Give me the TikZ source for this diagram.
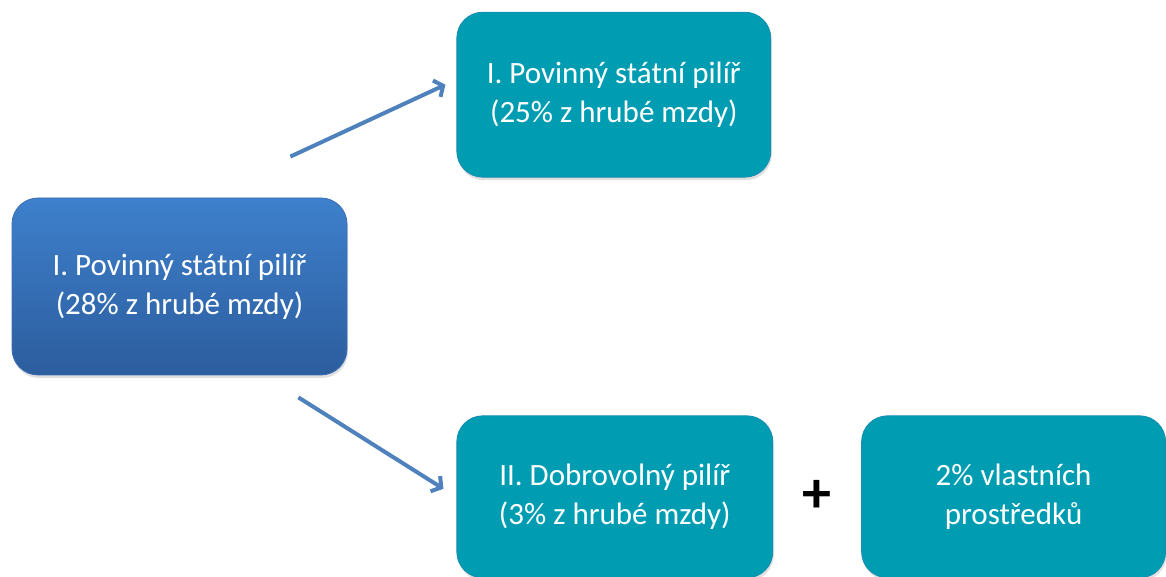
\documentclass[tikz,border=0pt]{standalone}
\usepackage{fontspec}
\setmainfont{Carlito}
\usetikzlibrary{positioning,arrows.meta,shadows,calc}
\definecolor{srctop}{RGB}{62,128,204}
\definecolor{srcbot}{RGB}{44,93,158}
\definecolor{srcedge}{RGB}{58,110,180}
\definecolor{tealbox}{RGB}{0,157,178}
\definecolor{tealedge}{RGB}{20,140,175}
\definecolor{arrowblue}{RGB}{79,129,189}

\begin{document}
\begin{tikzpicture}[x=1pt, y=1pt,
  box/.style={rounded corners=26pt, text=white, align=center, line width=0.8pt,
    font=\fontsize{31}{39}\selectfont, inner sep=0pt,
    drop shadow={shadow xshift=1pt, shadow yshift=-3pt, opacity=.25}},
  source/.style={box, top color=srctop, bottom color=srcbot, draw=srcedge, minimum width=335pt, minimum height=177pt},
  pillar/.style={box, fill=tealbox, draw=tealedge, minimum width=314pt, minimum height=162pt},
  plus/.style={font=\fontsize{58}{58}\selectfont\bfseries, inner sep=0pt},
  arr/.style={-{Straight Barb[length=7pt, width=18pt]}, line width=4pt, draw=arrowblue}]
\useasboundingbox (0,0) rectangle (1166,577);
\node[source] (state) at (179.5,290.5) {I. Povinný státní pilíř\\(28\% z hrubé mzdy)};
\node[pillar, above right=20pt and 109pt of state.north east, anchor=south west, minimum height=165pt] (first) {I. Povinný státní pilíř\\(25\% z hrubé mzdy)};
\node[pillar, below right=40pt and 109pt of state.south east, anchor=north west, minimum width=316pt] (second) {II. Dobrovolný pilíř\\(3\% z hrubé mzdy)};
\node[pillar, right=88pt of second, minimum width=304pt] (own) {2\% vlastních\\prostředků};
\node[plus] (sum) at ($(second.east)!0.5!(own.west)$) {+};
% arrow ends
\coordinate (upS) at ([xshift=-57pt, yshift=41pt]state.north east);
\coordinate (upE) at ([xshift=-11pt, yshift=10pt]first.west);
\coordinate (dnS) at ([xshift=-49pt, yshift=-22pt]state.south east);
\coordinate (dnE) at ([xshift=-13pt, yshift=8pt]second.west);
\draw[arr] (upS) -- (upE);
\draw[arr] (dnS) -- (dnE);
\end{tikzpicture}
\end{document}
